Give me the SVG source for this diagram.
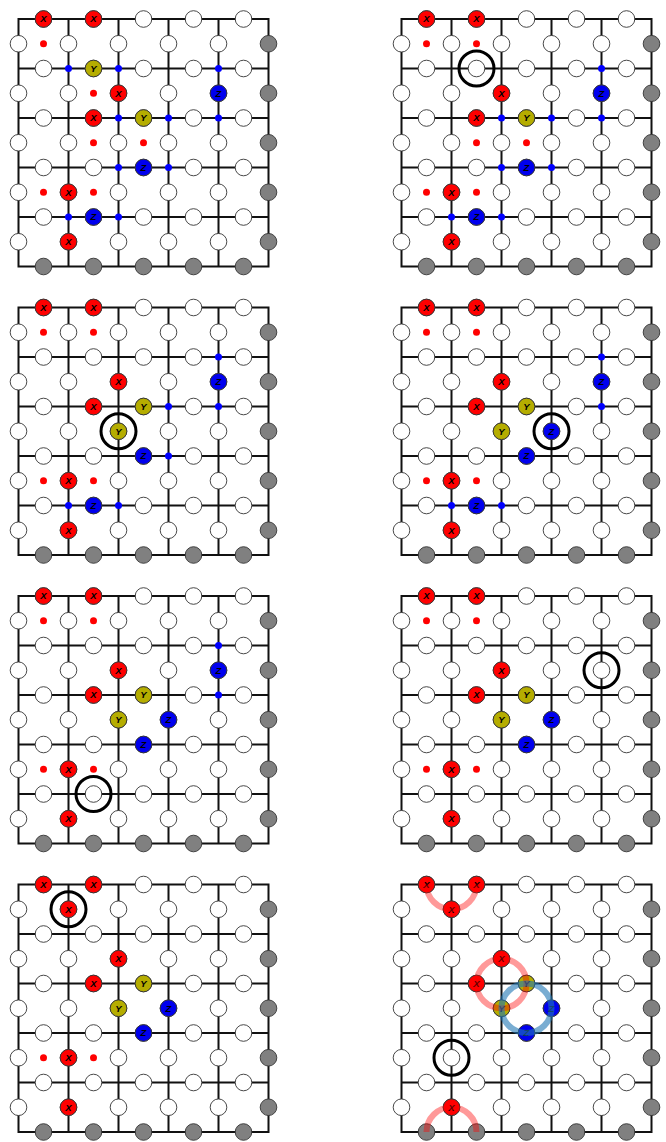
<svg xmlns="http://www.w3.org/2000/svg" xmlns:xlink="http://www.w3.org/1999/xlink" width="666" height="1142" viewBox="0 0 666 1142">
<style>
.grid{fill:none;stroke:#111;stroke-width:2}
.qw{fill:#fff;stroke:#333;stroke-width:0.9}
.qg{fill:#808080;stroke:#333;stroke-width:0.9}
.qx{fill:#f00;stroke:#333;stroke-width:0.9}
.qy{fill:#b5ad00;stroke:#333;stroke-width:0.9}
.qz{fill:#00e;stroke:#333;stroke-width:0.9}
.lbl{font-family:"Liberation Sans",Arial,sans-serif;font-size:9.5px;font-weight:bold;font-style:italic;text-anchor:middle;fill:#000}
.rd{fill:#f00}
.bd{fill:#00f}
.ring{fill:none;stroke:#000;stroke-width:3}
.pink{fill:none;stroke:#f00;stroke-opacity:0.4;stroke-width:6}
.sky{fill:none;stroke:#1f77b4;stroke-opacity:0.6;stroke-width:6}
</style>
<defs>
<g id="qX"><circle class="qx" r="8.3"/><text class="lbl" y="3.4">X</text></g>
<g id="qY"><circle class="qy" r="8.3"/><text class="lbl" y="3.4">Y</text></g>
<g id="qZ"><circle class="qz" r="8.3"/><text class="lbl" y="3.4">Z</text></g>
<circle id="dr" class="rd" r="3.5"/>
<circle id="db" class="bd" r="3.5"/>
<circle id="rg" class="ring" r="17.5"/>
<g id="lattice">
<path class="grid" d="M0 0H250V247.5H0Z M50 0V247.5 M100 0V247.5 M150 0V247.5 M200 0V247.5 M0 49.5H250 M0 99H250 M0 148.5H250 M0 198H250"/>
<g class="qw">
<circle cx="25" cy="0" r="8.3"/><circle cx="75" cy="0" r="8.3"/><circle cx="125" cy="0" r="8.3"/><circle cx="175" cy="0" r="8.3"/><circle cx="225" cy="0" r="8.3"/>
<circle cx="25" cy="49.5" r="8.3"/><circle cx="75" cy="49.5" r="8.3"/><circle cx="125" cy="49.5" r="8.3"/><circle cx="175" cy="49.5" r="8.3"/><circle cx="225" cy="49.5" r="8.3"/>
<circle cx="25" cy="99" r="8.3"/><circle cx="75" cy="99" r="8.3"/><circle cx="125" cy="99" r="8.3"/><circle cx="175" cy="99" r="8.3"/><circle cx="225" cy="99" r="8.3"/>
<circle cx="25" cy="148.5" r="8.3"/><circle cx="75" cy="148.5" r="8.3"/><circle cx="125" cy="148.5" r="8.3"/><circle cx="175" cy="148.5" r="8.3"/><circle cx="225" cy="148.5" r="8.3"/>
<circle cx="25" cy="198" r="8.3"/><circle cx="75" cy="198" r="8.3"/><circle cx="125" cy="198" r="8.3"/><circle cx="175" cy="198" r="8.3"/><circle cx="225" cy="198" r="8.3"/>
<circle cx="0" cy="24.75" r="8.3"/><circle cx="50" cy="24.75" r="8.3"/><circle cx="100" cy="24.75" r="8.3"/><circle cx="150" cy="24.75" r="8.3"/><circle cx="200" cy="24.75" r="8.3"/>
<circle cx="0" cy="74.25" r="8.3"/><circle cx="50" cy="74.25" r="8.3"/><circle cx="100" cy="74.25" r="8.3"/><circle cx="150" cy="74.25" r="8.3"/><circle cx="200" cy="74.25" r="8.3"/>
<circle cx="0" cy="123.75" r="8.3"/><circle cx="50" cy="123.75" r="8.3"/><circle cx="100" cy="123.75" r="8.3"/><circle cx="150" cy="123.75" r="8.3"/><circle cx="200" cy="123.75" r="8.3"/>
<circle cx="0" cy="173.25" r="8.3"/><circle cx="50" cy="173.25" r="8.3"/><circle cx="100" cy="173.25" r="8.3"/><circle cx="150" cy="173.25" r="8.3"/><circle cx="200" cy="173.25" r="8.3"/>
<circle cx="0" cy="222.75" r="8.3"/><circle cx="50" cy="222.75" r="8.3"/><circle cx="100" cy="222.75" r="8.3"/><circle cx="150" cy="222.75" r="8.3"/><circle cx="200" cy="222.75" r="8.3"/>
</g>
<g class="qg">
<circle cx="250" cy="24.75" r="8.3"/><circle cx="250" cy="74.25" r="8.3"/><circle cx="250" cy="123.75" r="8.3"/><circle cx="250" cy="173.25" r="8.3"/><circle cx="250" cy="222.75" r="8.3"/>
<circle cx="25" cy="247.5" r="8.3"/><circle cx="75" cy="247.5" r="8.3"/><circle cx="125" cy="247.5" r="8.3"/><circle cx="175" cy="247.5" r="8.3"/><circle cx="225" cy="247.5" r="8.3"/>
</g>
</g>
<g id="xbase">
<use href="#qX" x="25" y="0"/><use href="#qX" x="75" y="0"/><use href="#qX" x="100" y="74.25"/><use href="#qX" x="75" y="99"/><use href="#qX" x="50" y="173.25"/><use href="#qX" x="50" y="222.75"/>
</g>
</defs>
<rect width="666" height="1142" fill="#fff"/>

<g id="panel-1" transform="translate(18.5,19)">
<use href="#lattice"/>
<g id="p1-syndromes">
<use href="#dr" x="25" y="24.75"/><use href="#dr" x="75" y="74.25"/><use href="#dr" x="75" y="123.75"/><use href="#dr" x="125" y="123.75"/><use href="#dr" x="25" y="173.25"/><use href="#dr" x="75" y="173.25"/>
<use href="#db" x="50" y="49.5"/><use href="#db" x="100" y="49.5"/><use href="#db" x="200" y="49.5"/><use href="#db" x="100" y="99"/><use href="#db" x="150" y="99"/><use href="#db" x="200" y="99"/><use href="#db" x="100" y="148.5"/><use href="#db" x="150" y="148.5"/><use href="#db" x="50" y="198"/><use href="#db" x="100" y="198"/>
</g>
<g id="p1-errors">
<use href="#xbase"/>
<use href="#qY" x="75" y="49.5"/><use href="#qY" x="125" y="99"/>
<use href="#qZ" x="200" y="74.25"/><use href="#qZ" x="125" y="148.5"/><use href="#qZ" x="75" y="198"/>
</g>
</g>

<g id="panel-2" transform="translate(401.5,19)">
<use href="#lattice"/>
<g id="p2-syndromes">
<use href="#dr" x="25" y="24.75"/><use href="#dr" x="75" y="24.75"/><use href="#dr" x="75" y="123.75"/><use href="#dr" x="125" y="123.75"/><use href="#dr" x="25" y="173.25"/><use href="#dr" x="75" y="173.25"/>
<use href="#db" x="200" y="49.5"/><use href="#db" x="100" y="99"/><use href="#db" x="150" y="99"/><use href="#db" x="200" y="99"/><use href="#db" x="100" y="148.5"/><use href="#db" x="150" y="148.5"/><use href="#db" x="50" y="198"/><use href="#db" x="100" y="198"/>
</g>
<g id="p2-errors">
<use href="#xbase"/>
<use href="#qY" x="125" y="99"/>
<use href="#qZ" x="200" y="74.25"/><use href="#qZ" x="125" y="148.5"/><use href="#qZ" x="75" y="198"/>
</g>
<use id="p2-select" href="#rg" x="75" y="49.5"/>
</g>

<g id="panel-3" transform="translate(18.5,307.5)">
<use href="#lattice"/>
<g id="p3-syndromes">
<use href="#dr" x="25" y="24.75"/><use href="#dr" x="75" y="24.75"/><use href="#dr" x="25" y="173.25"/><use href="#dr" x="75" y="173.25"/>
<use href="#db" x="200" y="49.5"/><use href="#db" x="150" y="99"/><use href="#db" x="200" y="99"/><use href="#db" x="150" y="148.5"/><use href="#db" x="50" y="198"/><use href="#db" x="100" y="198"/>
</g>
<g id="p3-errors">
<use href="#xbase"/>
<use href="#qY" x="125" y="99"/><use href="#qY" x="100" y="123.75"/>
<use href="#qZ" x="200" y="74.25"/><use href="#qZ" x="125" y="148.5"/><use href="#qZ" x="75" y="198"/>
</g>
<use id="p3-select" href="#rg" x="100" y="123.75"/>
</g>

<g id="panel-4" transform="translate(401.5,307.5)">
<use href="#lattice"/>
<g id="p4-syndromes">
<use href="#dr" x="25" y="24.75"/><use href="#dr" x="75" y="24.75"/><use href="#dr" x="25" y="173.25"/><use href="#dr" x="75" y="173.25"/>
<use href="#db" x="200" y="49.5"/><use href="#db" x="200" y="99"/><use href="#db" x="50" y="198"/><use href="#db" x="100" y="198"/>
</g>
<g id="p4-errors">
<use href="#xbase"/>
<use href="#qY" x="125" y="99"/><use href="#qY" x="100" y="123.75"/>
<use href="#qZ" x="200" y="74.25"/><use href="#qZ" x="125" y="148.5"/><use href="#qZ" x="75" y="198"/><use href="#qZ" x="150" y="123.75"/>
</g>
<use id="p4-select" href="#rg" x="150" y="123.75"/>
</g>

<g id="panel-5" transform="translate(18.5,596)">
<use href="#lattice"/>
<g id="p5-syndromes">
<use href="#dr" x="25" y="24.75"/><use href="#dr" x="75" y="24.75"/><use href="#dr" x="25" y="173.25"/><use href="#dr" x="75" y="173.25"/>
<use href="#db" x="200" y="49.5"/><use href="#db" x="200" y="99"/>
</g>
<g id="p5-errors">
<use href="#xbase"/>
<use href="#qY" x="125" y="99"/><use href="#qY" x="100" y="123.75"/>
<use href="#qZ" x="200" y="74.25"/><use href="#qZ" x="125" y="148.5"/><use href="#qZ" x="150" y="123.75"/>
</g>
<use id="p5-select" href="#rg" x="75" y="198"/>
</g>

<g id="panel-6" transform="translate(401.5,596)">
<use href="#lattice"/>
<g id="p6-syndromes">
<use href="#dr" x="25" y="24.75"/><use href="#dr" x="75" y="24.75"/><use href="#dr" x="25" y="173.25"/><use href="#dr" x="75" y="173.25"/>
</g>
<g id="p6-errors">
<use href="#xbase"/>
<use href="#qY" x="125" y="99"/><use href="#qY" x="100" y="123.75"/>
<use href="#qZ" x="125" y="148.5"/><use href="#qZ" x="150" y="123.75"/>
</g>
<use id="p6-select" href="#rg" x="200" y="74.25"/>
</g>

<g id="panel-7" transform="translate(18.5,884.5)">
<use href="#lattice"/>
<g id="p7-syndromes">
<use href="#dr" x="25" y="173.25"/><use href="#dr" x="75" y="173.25"/>
</g>
<g id="p7-errors">
<use href="#xbase"/>
<use href="#qX" x="50" y="24.75"/>
<use href="#qY" x="125" y="99"/><use href="#qY" x="100" y="123.75"/>
<use href="#qZ" x="125" y="148.5"/><use href="#qZ" x="150" y="123.75"/>
</g>
<use id="p7-select" href="#rg" x="50" y="24.75"/>
</g>

<g id="panel-8" transform="translate(401.5,884.5)">
<use href="#lattice"/>
<g id="p8-errors">
<use href="#qX" x="25" y="0"/><use href="#qX" x="75" y="0"/><use href="#qX" x="50" y="24.75"/><use href="#qX" x="100" y="74.25"/><use href="#qX" x="75" y="99"/><use href="#qX" x="50" y="222.75"/>
<use href="#qY" x="125" y="99"/><use href="#qY" x="100" y="123.75"/>
<use href="#qZ" x="125" y="148.5"/><use href="#qZ" x="150" y="123.75"/>
</g>
<use id="p8-select" href="#rg" x="50" y="173.25"/>
<g id="p8-loops">
<path class="pink" d="M25 0A25 24.75 0 0 0 75 0"/>
<ellipse class="pink" cx="100" cy="99" rx="25" ry="24.75"/>
<ellipse class="sky" cx="125" cy="123.75" rx="25" ry="24.75"/>
<path class="pink" d="M25 247.5A25 24.75 0 0 1 75 247.5"/>
</g>
</g>
</svg>
